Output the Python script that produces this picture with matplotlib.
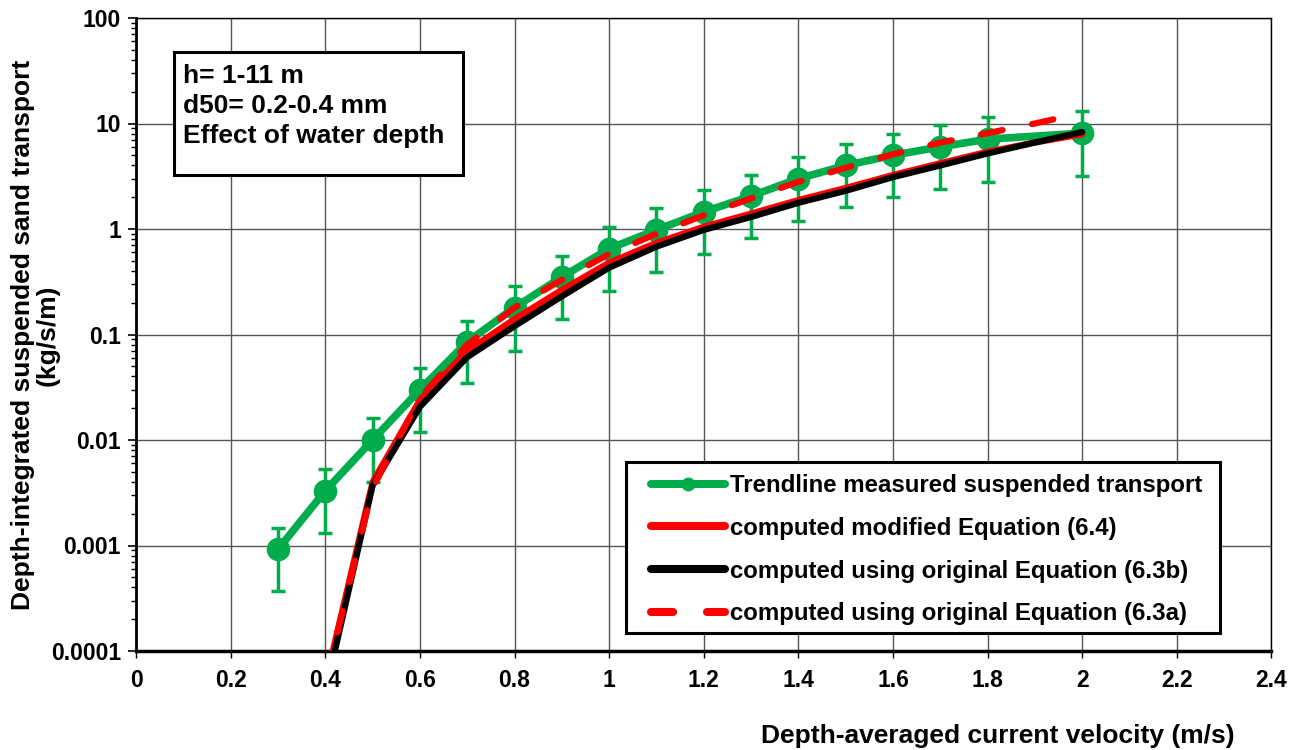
import numpy as np
import matplotlib.pyplot as plt
from matplotlib.lines import Line2D
from matplotlib.patches import Rectangle
from matplotlib.ticker import LogLocator, NullFormatter

plt.rcParams['font.family'] = ['Liberation Sans', 'DejaVu Sans']
plt.rcParams['font.weight'] = 'bold'

# measured trendline with error bars
x_meas = [0.3, 0.4, 0.5, 0.6, 0.7, 0.8, 0.9, 1.0, 1.1, 1.2, 1.3, 1.4, 1.5, 1.6, 1.7, 1.8, 2.0]
y_meas = [0.00092, 0.0033, 0.010, 0.030, 0.085, 0.18, 0.35, 0.65, 0.98, 1.45, 2.05, 3.0, 4.0, 5.0, 6.0, 7.1, 8.1]
err_meas = [0.00055, 0.002, 0.006, 0.018, 0.05, 0.11, 0.21, 0.39, 0.59, 0.87, 1.23, 1.8, 2.4, 3.0, 3.6, 4.3, 4.9]

# computed curves
x_comp = [0.4, 0.5, 0.6, 0.7, 0.8, 0.9, 1.0, 1.1, 1.2, 1.3, 1.4, 1.5, 1.6, 1.7, 1.8, 1.9, 2.0]
y_mod64 = [0.00005, 0.0040, 0.024, 0.07, 0.14, 0.265, 0.48, 0.74, 1.05, 1.4, 1.88, 2.45, 3.25, 4.2, 5.4, 6.6, 7.9]
y_orig63b = [0.00004, 0.0037, 0.0206, 0.061, 0.12, 0.23, 0.43, 0.68, 0.98, 1.3, 1.77, 2.3, 3.1, 4.0, 5.2, 6.6, 8.3]
y_orig63a = [0.00005, 0.0035, 0.025, 0.08, 0.18, 0.33, 0.58, 0.9, 1.35, 1.95, 2.8, 3.8, 5.1, 6.6, 8.1, 10.0, 12.6]

labels = ['Trendline measured suspended transport',
          'computed modified Equation (6.4)',
          'computed using original Equation (6.3b)',
          'computed using original Equation (6.3a)']

green = '#00ac4c'

fig = plt.figure(figsize=(12.96, 7.5), dpi=100)
ax = fig.add_axes([0.105, 0.132, 0.876, 0.844])

ax.errorbar(x_meas, y_meas, yerr=err_meas, color=green, lw=5.5, marker='o', ms=16,
            elinewidth=2.5, capsize=5, capthick=2.5, zorder=3)
ax.plot(x_comp, y_mod64, color='red', lw=4.5, zorder=4, solid_capstyle='round')
ax.plot(x_comp, y_orig63b, color='black', lw=4.5, zorder=5, solid_capstyle='round')
ax.plot(x_comp, y_orig63a, color='red', lw=4.5, ls=(0, (3.5, 4.8)), zorder=6, dash_capstyle='round')

ax.set_yscale('log')
ax.set_xlim(0, 2.4)
ax.set_ylim(0.0001, 100)
ax.set_xticks(np.arange(0, 2.41, 0.2))
ax.set_xticklabels(['0', '0.2', '0.4', '0.6', '0.8', '1', '1.2', '1.4', '1.6', '1.8', '2', '2.2', '2.4'])
ax.set_yticks([0.0001, 0.001, 0.01, 0.1, 1, 10, 100])
ax.set_yticklabels(['0.0001', '0.001', '0.01', '0.1', '1', '10', '100'])
ax.yaxis.set_minor_locator(LogLocator(base=10, subs=np.arange(2, 10), numticks=20))
ax.yaxis.set_minor_formatter(NullFormatter())
ax.tick_params(axis='y', which='major', labelsize=16.5, length=6, width=1.2, direction='out', pad=5)
ax.tick_params(axis='y', which='minor', length=3.5, width=1, direction='out')
ax.tick_params(axis='x', which='both', labelsize=16.5, length=5, width=1, direction='out', pad=8)
ax.grid(True, which='major', color='#555555', lw=1)
ax.set_axisbelow(True)
for s in ax.spines.values():
    s.set_linewidth(1)
ax.spines['bottom'].set_linewidth(2.5)
ax.spines['left'].set_linewidth(2)

fig.text(0.77, 0.003, 'Depth-averaged current velocity (m/s)', ha='center', va='bottom',
         fontsize=19, fontweight='bold')
fig.text(0.027, 0.553, 'Depth-integrated suspended sand transport\n(kg/s/m)', ha='center',
         va='center', rotation=90, fontsize=19, fontweight='bold', linespacing=1.05)

# info box
ax.add_patch(Rectangle((0.0335, 0.752), 0.2545, 0.194, transform=ax.transAxes,
                       fc='white', ec='black', lw=2.2, zorder=10))
ax.text(0.0414, 0.928, 'h= 1-11 m\nd50= 0.2-0.4 mm\nEffect of water depth', transform=ax.transAxes,
        fontsize=19, fontweight='bold', va='top', ha='left', linespacing=1.32, zorder=11)

# legend: frame drawn separately so the side margins match
ax.add_patch(Rectangle((0.4317, 0.0284), 0.5233, 0.2702, transform=ax.transAxes,
                       fc='white', ec='black', lw=2.2, zorder=10))
handles = [Line2D([], [], color=green, lw=5.8, marker='o', ms=9, solid_capstyle='round'),
           Line2D([], [], color='red', lw=5.8, solid_capstyle='round'),
           Line2D([], [], color='black', lw=5.8, solid_capstyle='round'),
           Line2D([], [], color='red', lw=5.8, ls=(0, (2.75, 4.2)), dash_capstyle='round')]
leg = ax.legend(handles, labels, loc='center', bbox_to_anchor=(0.6965, 0.160),
                borderaxespad=0, fontsize=17.3, frameon=False, handlelength=3.08,
                borderpad=0, labelspacing=0.82, handletextpad=0.22)
leg.set_zorder(11)

fig.savefig('out.png', dpi=100)
